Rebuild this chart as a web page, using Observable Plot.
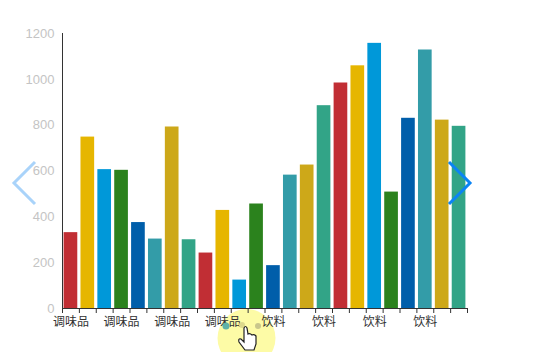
<!DOCTYPE html>
<html>
<head>
<meta charset="utf-8">
<script src="https://cdn.jsdelivr.net/npm/d3@7"></script>
<script src="https://cdn.jsdelivr.net/npm/@observablehq/plot@0.6"></script>
<style>
html,body{margin:0;padding:0;background:#fff;overflow:hidden}
#wrap{position:relative;width:547px;height:352px}
#chart,#under,#overlay{position:absolute;left:0;top:0}
#overlay{pointer-events:none}
</style>
</head>
<body>
<div id="wrap">
<svg id="under" width="547" height="352">
  <circle cx="246.5" cy="338" r="29" fill="#fdfba6"/>
</svg>
<div id="chart"></div>
<svg id="overlay" width="547" height="352">
  <circle cx="226" cy="326" r="3.5" fill="#5fb2a8"/>
  <circle cx="242" cy="325" r="3" fill="#dcd88c"/>
  <circle cx="258" cy="326" r="3" fill="#c9c68c"/>
  <path d="M244 328 L244 342 L241 339 Q238 338 239 342 L245 350 L254 350 L256 344 L256 336 Q254 334 252 335 Q250 333 248 334 L247 328 Q245.500 325 244 328 Z" fill="#fff" stroke="#222" stroke-width="1.2"/>
  <polyline points="35,162 14,183 35,204" fill="none" stroke="#a9d3fa" stroke-width="3"/>
  <polyline points="449,162 470,183 449,204" fill="none" stroke="#0a84f5" stroke-width="3"/>
</svg>
</div>
<script>
const months = d3.range(24);
const values = [331,748,606,603,375,303,792,300,242,428,124,456,187,582,626,885,984,1059,1157,508,830,1128,822,795];
const palette = ["#c12e34","#e6b600","#0098d9","#2b821d","#005eaa","#339ca8","#cda819","#32a487"];
const labels = ["调味品","调味品","调味品","调味品","饮料","饮料","饮料","饮料"];
const yTicks = [0,200,400,600,800,1000,1200];

const rows = months.map(i => ({i, v: values[i], c: palette[i % palette.length]}));
const labelAt = labels.map((t, k) => ({x: k * 3 + 0.5, t}));

const plot = Plot.plot({
  width: 547, height: 352,
  marginLeft: 62, marginRight: 80, marginTop: 33, marginBottom: 44,
  style: {background: "transparent", overflow: "visible"},
  x: {type: "linear", domain: [0, 24], axis: null},
  y: {domain: [0, 1200], axis: null},
  marks: [
    Plot.rectY(rows, {x1: "i", x2: d => d.i + 1, y1: 0, y2: "v", fill: "c", insetLeft: 1.6, insetRight: 1.6}),
    Plot.ruleX([0], {stroke: "#333", strokeWidth: 1}),
    Plot.ruleY([0], {stroke: "#333", strokeWidth: 1}),
    Plot.axisX({ticks: d3.range(25), tickSize: 5, tickFormat: () => "", stroke: "#333", strokeWidth: 1}),
    Plot.axisY({ticks: yTicks, tickSize: 0, tickPadding: 8, tickFormat: d => String(d), fill: "#c4c4c4", fontSize: 13, fontFamily: "Liberation Sans", label: null}),
    Plot.text(labelAt, {x: "x", y: 0, text: "t", dy: 14, fontSize: 12, fill: "#333", fontFamily: "Noto Sans CJK SC"})
  ]
});
document.getElementById("chart").appendChild(plot);
</script>
</body>
</html>
